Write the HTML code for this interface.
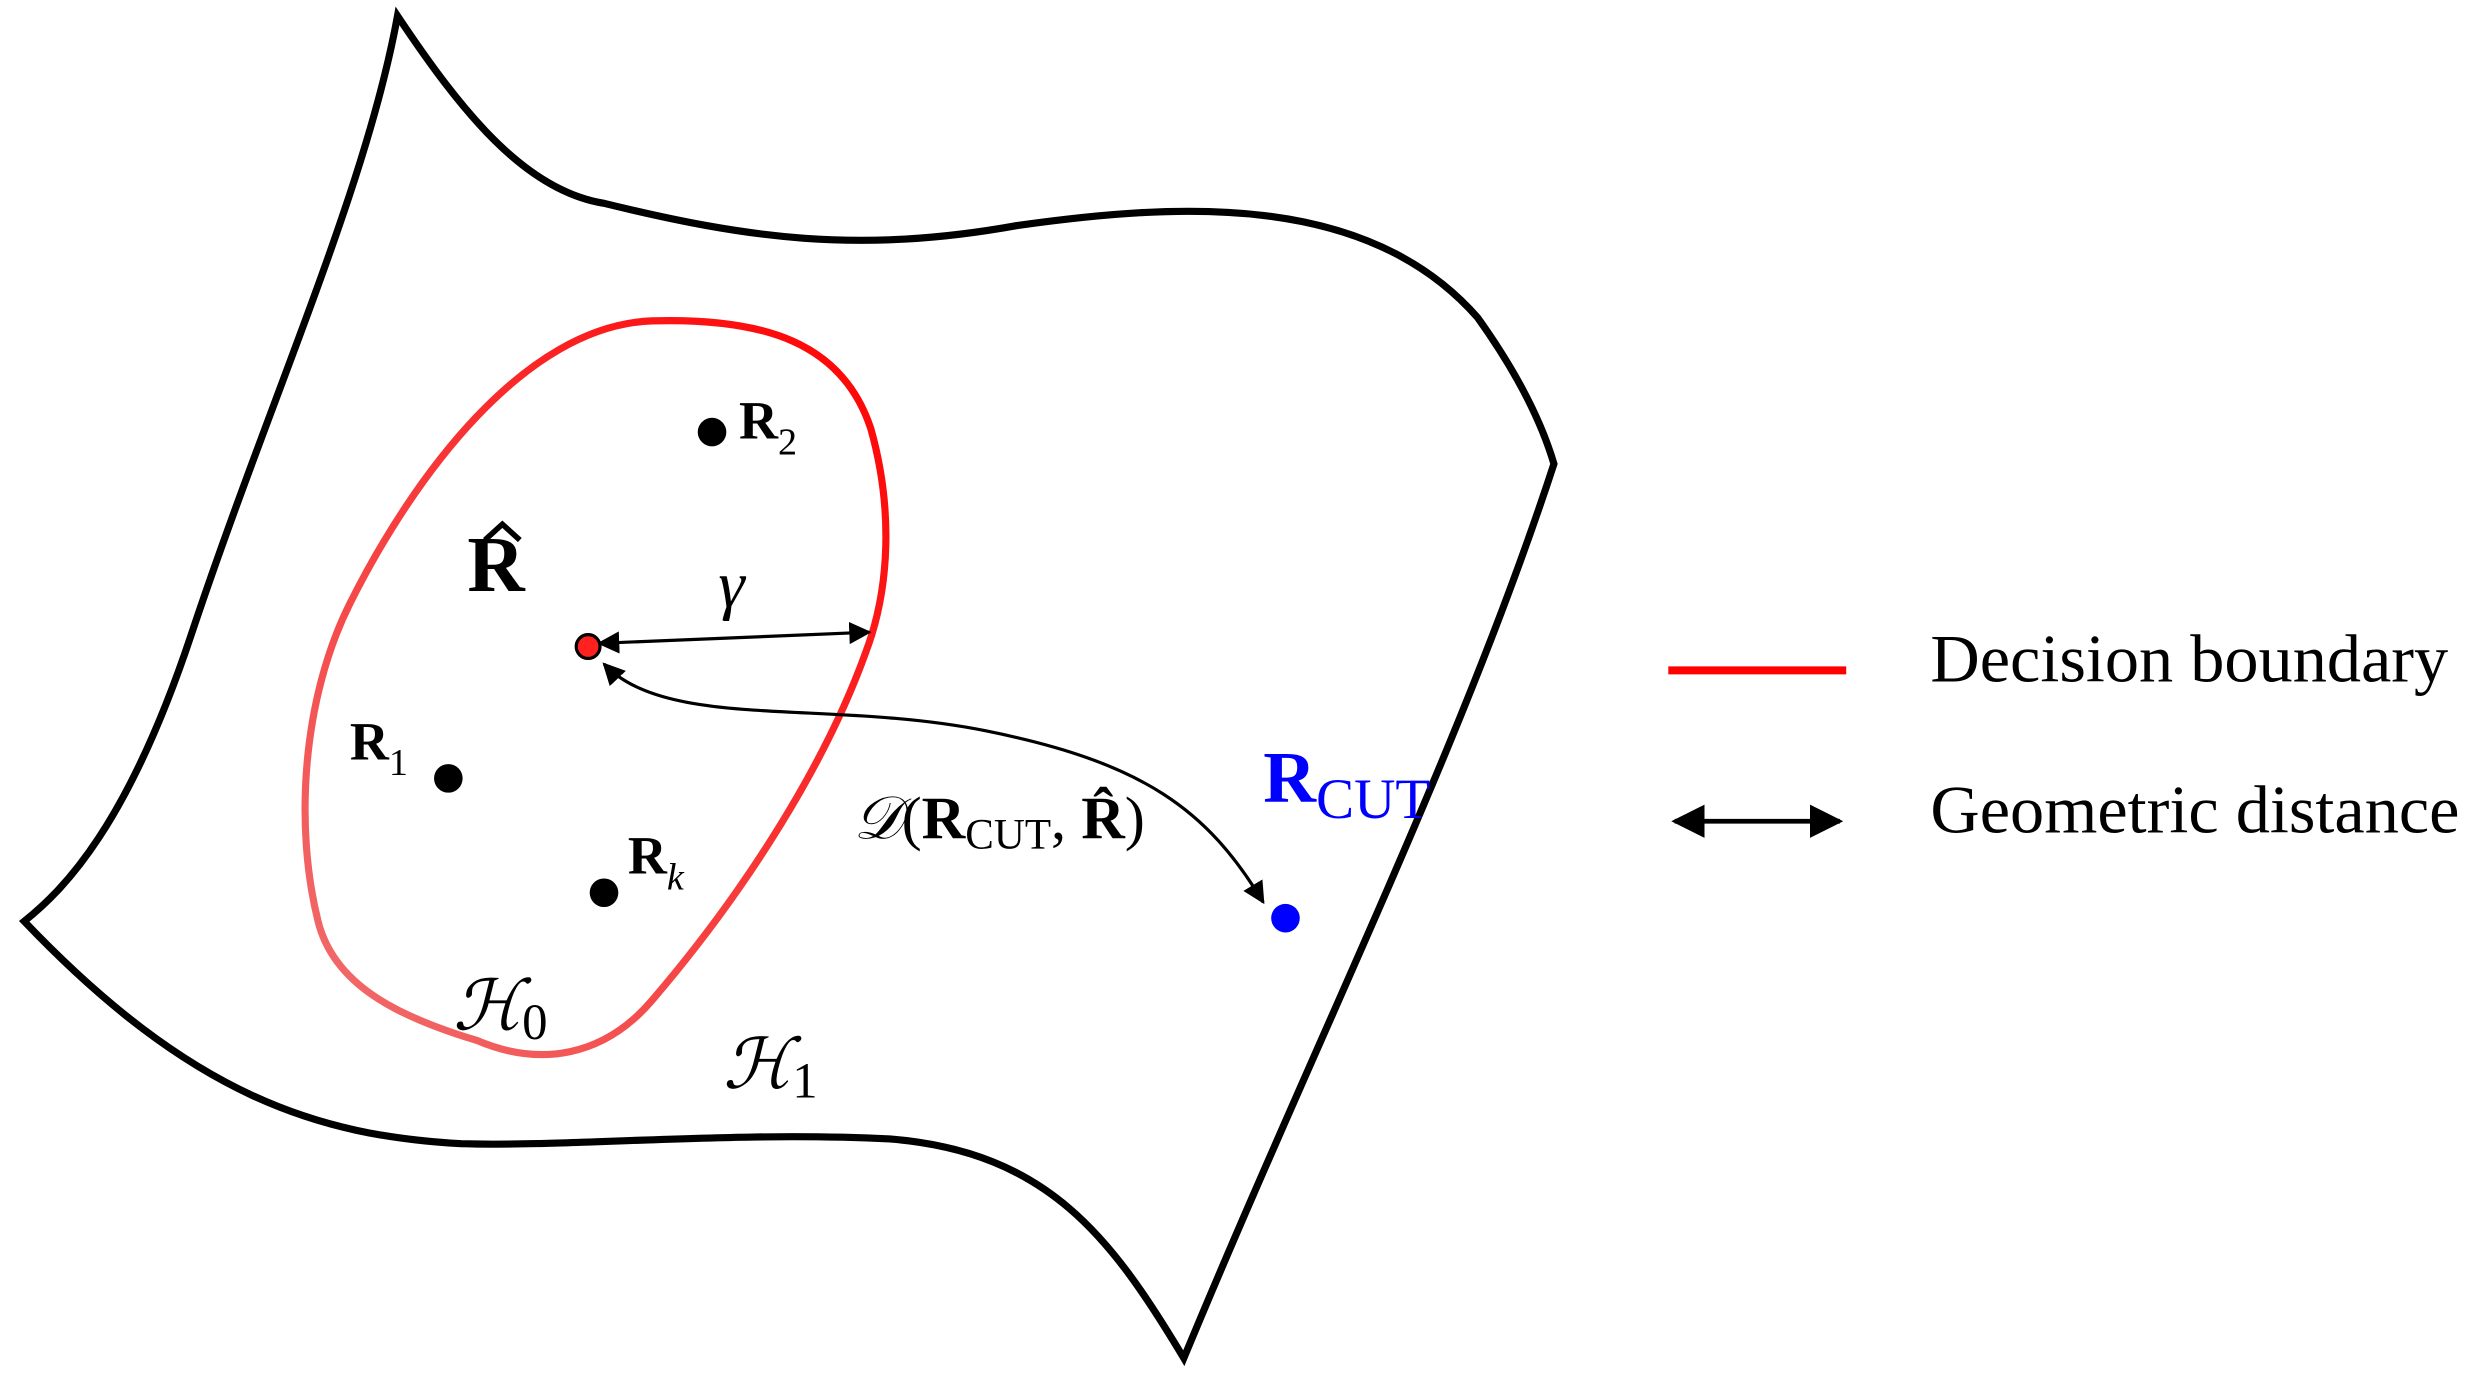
<!DOCTYPE html>
<html><head><meta charset="utf-8"><style>
html,body{margin:0;padding:0;background:#fff;}
svg{display:block;}
text{font-family:"Liberation Serif",serif;}
</style></head><body>
<svg width="2482" height="1382" viewBox="0 0 1562 870" xmlns="http://www.w3.org/2000/svg">
<defs>
<linearGradient id="rg" x1="1" y1="0" x2="0" y2="1">
<stop offset="0" stop-color="#ff0000"/>
<stop offset="1" stop-color="#f07070"/>
</linearGradient>
<marker id="ah" viewBox="0 0 10 10" refX="9" refY="5" markerWidth="7" markerHeight="7" orient="auto-start-reverse">
<path d="M0,0 L10,5 L0,10 z" fill="#000"/>
</marker>
</defs>
<path d="M250,10 C290,70 330,120 380,128 C470,150 540,160 640,142 C740,128 860,120 930,200 C955,235 970,265 978,292
 C920,470 830,650 745,855
 C700,780 660,725 560,717 C460,712 360,722 290,720 C200,715 120,690 15,580
 C40,560 80,520 120,400 C170,250 230,120 250,10 Z" fill="none" stroke="#000" stroke-width="4.5"/>
<path d="M410,202 C480,200 530,215 548,270 C562,320 560,370 545,410 C520,480 470,560 410,630 C380,665 340,672 300,655 C250,640 210,620 200,580 C185,520 190,440 220,380 C260,300 330,205 410,202 Z" fill="none" stroke="url(#rg)" stroke-width="4.5"/>
<circle cx="448" cy="272" r="9" fill="#000"/>
<circle cx="282" cy="490" r="9" fill="#000"/>
<circle cx="380" cy="562" r="9" fill="#000"/>
<circle cx="809" cy="578" r="9" fill="#0000ff"/>
<line x1="377" y1="405" x2="547" y2="398" stroke="#000" stroke-width="2" marker-start="url(#ah)" marker-end="url(#ah)"/>
<path d="M380,418 C420,460 520,440 620,460 C720,480 760,510 795,568" fill="none" stroke="#000" stroke-width="2" marker-start="url(#ah)" marker-end="url(#ah)"/>
<circle cx="370" cy="407" r="7.5" fill="#ff2020" stroke="#000" stroke-width="2"/>
<text x="465" y="276" font-size="34" font-weight="bold">R<tspan font-size="24" font-weight="normal" dy="10">2</tspan></text>
<text x="294" y="372" font-size="50" font-weight="bold">R</text>
<path d="M305,340 L316,330 L327,340" fill="none" stroke="#000" stroke-width="3.5"/>
<text x="452" y="382" font-size="42" font-style="italic">γ</text>
<text x="220" y="478" font-size="34" font-weight="bold">R<tspan font-size="24" font-weight="normal" dy="10">1</tspan></text>
<text x="395" y="550" font-size="34" font-weight="bold">R<tspan font-size="24" font-weight="normal" font-style="italic" dy="10">k</tspan></text>
<text x="285" y="648" font-size="44" font-style="italic">ℋ<tspan font-size="32" font-style="normal" dy="6">0</tspan></text>
<text x="455" y="685" font-size="44" font-style="italic">ℋ<tspan font-size="32" font-style="normal" dy="6">1</tspan></text>
<text x="537" y="528" font-size="38"><tspan font-style="italic">𝒟</tspan>(<tspan font-weight="bold">R</tspan><tspan font-size="27" dy="6">CUT</tspan><tspan dy="-6">, </tspan><tspan font-weight="bold">R̂</tspan>)</text>
<text x="795" y="505" font-size="46" font-weight="bold" fill="#0000ff">R<tspan font-size="36" font-weight="normal" dy="10">CUT</tspan></text>
<line x1="1050" y1="422" x2="1162" y2="422" stroke="#ff0000" stroke-width="5"/>
<line x1="1054" y1="517" x2="1158" y2="517" stroke="#000" stroke-width="3" marker-start="url(#ah)" marker-end="url(#ah)"/>
<text x="1215" y="429" font-size="43">Decision boundary</text>
<text x="1215" y="524" font-size="43">Geometric distance</text>
</svg>
</body></html>
